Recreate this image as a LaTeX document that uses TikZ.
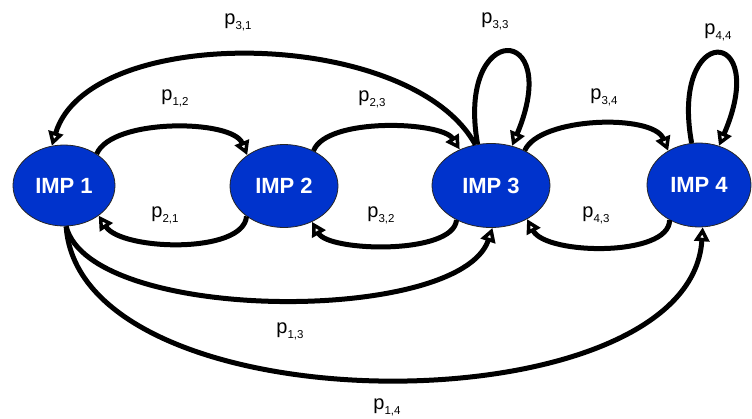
\documentclass[tikz,border=0pt]{standalone}
\usepackage{fontspec}
\setmainfont{Liberation Sans}
\usetikzlibrary{shapes.geometric,arrows.meta}
\definecolor{impblue}{RGB}{0,51,204}
% transition probability label: p with a two-index subscript
\newcommand{\prob}[1]{p\raisebox{-0.45ex}{\fontsize{11.5}{12}\selectfont #1}}
\begin{document}
\begin{tikzpicture}[x=1pt,y=-1pt,
  state/.style={ellipse, draw=black!85, line width=0.8pt, fill=impblue,
    text=white, font=\fontsize{22}{24}\selectfont\bfseries, inner sep=0pt},
  trans/.style={line width=5pt,
    -{Triangle[open, length=14pt, width=15pt, line width=3.6pt]}},
  lab/.style={font=\fontsize{20}{22}\selectfont, inner sep=0pt}]
\path[use as bounding box] (0,0) rectangle (752,418);

% states
\node[state, minimum width=102pt, minimum height=81pt] (s1) at (64,185.5) {IMP 1};
\node[state, minimum width=108pt, minimum height=83pt] (s2) at (284,186) {IMP 2};
\node[state, minimum width=118pt, minimum height=84pt] (s3) at (491,185.5) {IMP 3};
\node[state, minimum width=104pt, minimum height=84pt] (s4) at (699,185) {IMP 4};

% transitions between neighbours
\draw[trans] (s1.44)  .. controls +(15,-36) and +(-15,-36) .. (s2.140);
\draw[trans] (s2.219) .. controls +(-3,38) and +(23,35) .. (s1.-41);
\draw[trans] (s2.50)  .. controls +(13,-34) and +(-18,-28) .. (s3.131);
\draw[trans] (s3.225) .. controls +(-3,35) and +(17,30) .. (s2.-52);
\draw[trans] (s3.46)  .. controls +(15,-34) and +(-15,-37) .. (s4.132);
\draw[trans] (s4.230) .. controls +(0,37) and +(19,36) .. (s3.-43);

% self loops
\draw[trans] (s3.108) .. controls +(-22,-124) and +(52,-124) .. (s3.62);
\draw[trans] (s4.100) .. controls +(-22,-121) and +(52,-121) .. (s4.63);

% long-range transitions
\draw[trans] (s3.111) .. controls +(-65,-118) and +(37,-123) .. (s1.107);
\draw[trans] (s1.-87) .. controls +(24,97) and +(-33,97) .. (s3.-88);
\draw[trans] (s1.-87) .. controls +(14,204) and +(-13,203) .. (s4.-85);

% labels
\node[lab] (l31) at (238,22)  {\prob{3,1}};
\node[lab] (l12) at (175,98)  {\prob{1,2}};
\node[lab] (l23) at (372,99)  {\prob{2,3}};
\node[lab] (l33) at (495,21)  {\prob{3,3}};
\node[lab] (l44) at (718,32)  {\prob{4,4}};
\node[lab] (l34) at (604,97)  {\prob{3,4}};
\node[lab] (l21) at (165,215) {\prob{2,1}};
\node[lab] (l32) at (381,215) {\prob{3,2}};
\node[lab] (l43) at (596,215) {\prob{4,3}};
\node[lab] (l13) at (290,331) {\prob{1,3}};
\node[lab] (l14) at (387,407) {\prob{1,4}};
\end{tikzpicture}
\end{document}
